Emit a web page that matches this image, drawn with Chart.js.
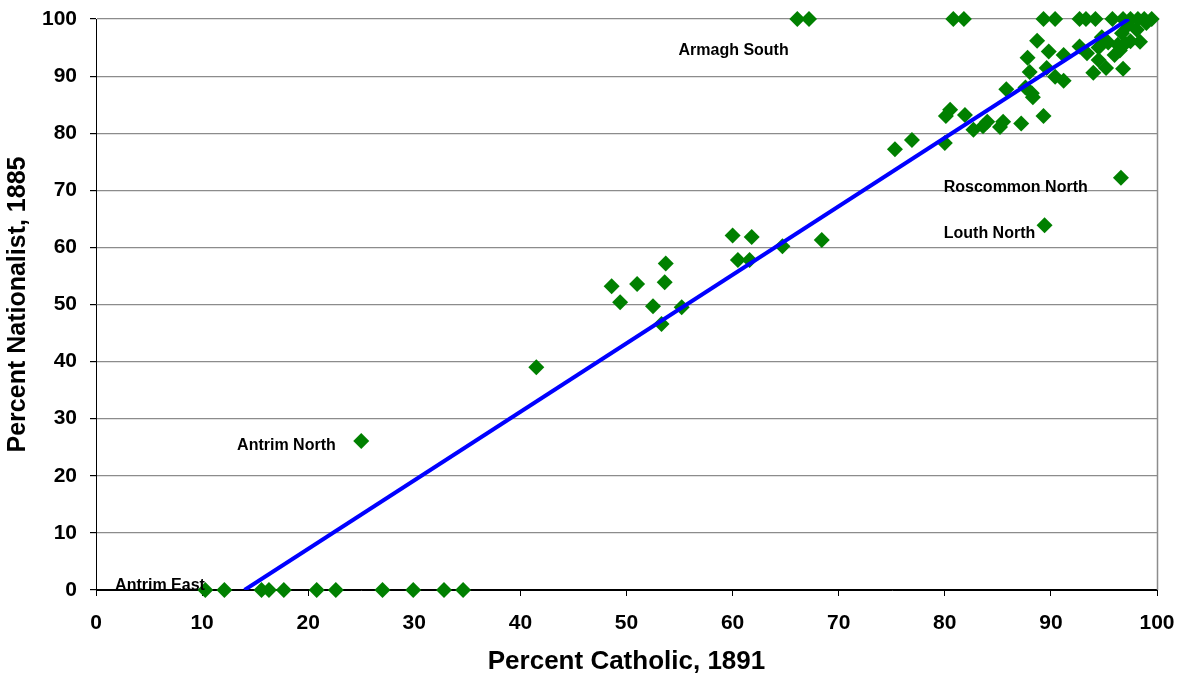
<!DOCTYPE html>
<html>
<head>
<meta charset="utf-8">
<title>Percent Catholic vs Percent Nationalist</title>
<script src="https://cdn.jsdelivr.net/npm/chart.js@4.4.1/dist/chart.umd.min.js"></script>
<style>
  html, body { margin: 0; padding: 0; background: #fff; }
  #wrap { width: 1186px; height: 680px; }
</style>
</head>
<body>
<div id="wrap"><canvas id="scatter" width="1186" height="680"></canvas></div>
<script>
// Constituency values: % Catholic (1891) against % Nationalist vote (1885)
const pctCatholic = [
  10.3, 12.1, 15.6, 16.3, 17.7, 20.8, 22.6, 27.0, 29.9, 32.8, 34.6,
  25.0, 41.5,
  48.6, 49.4, 51.0, 52.5, 53.7, 53.6, 53.3, 55.2,
  60.0, 61.8, 60.5, 61.6, 64.7, 68.4,
  66.1, 67.2, 80.8, 81.8,
  75.3, 76.9, 80.0,
  80.5, 80.1, 81.9, 82.7, 83.6, 84.0, 85.2, 85.5, 87.2, 89.3,
  85.8, 87.6, 88.2, 88.3, 88.0, 87.8, 88.7,
  89.4, 96.6,
  89.3, 90.4, 92.7, 93.3, 94.2, 95.8, 96.8, 97.5, 98.2, 98.8, 99.5,
  89.8, 91.2, 89.6, 90.4, 91.2, 94.0, 95.2, 96.8, 92.7, 93.4, 94.5, 94.8,
  95.4, 96.3, 97.0, 97.5, 98.4, 98.1, 99.0, 96.7, 96.0, 94.5, 97.3, 96.5
];
const pctNationalist = [
  0, 0, 0, 0, 0, 0, 0, 0, 0, 0, 0,
  26.1, 39.0,
  53.2, 50.4, 53.6, 49.7, 57.2, 53.9, 46.6, 49.5,
  62.1, 61.8, 57.8, 57.8, 60.2, 61.3,
  100, 100, 100, 100,
  77.2, 78.8, 78.3,
  84.1, 83.0, 83.2, 80.6, 81.2, 82.0, 81.1, 82.0, 81.7, 83.0,
  87.7, 88.0, 87.0, 86.3, 90.7, 93.2, 96.2,
  63.9, 72.2,
  100, 100, 100, 100, 100, 100, 100, 100, 100, 100, 100,
  94.3, 93.7, 91.4, 89.9, 89.2, 90.6, 91.4, 91.3, 95.2, 94.0, 95.0, 96.8,
  95.9, 95.5, 95.7, 96.1, 96.0, 98.1, 99.3, 97.5, 93.7, 92.8, 99.0, 94.5
];

// Named constituencies (label anchor: left end of the text baseline)
const noteNames = ["Armagh South", "Roscommon North", "Louth North", "Antrim North", "Antrim East"];
const noteX = [54.9, 79.9, 79.9, 13.3, 1.8];
const noteY = [93.7, 69.7, 61.6, 24.5, 0];

// Linear trend, clipped to 0..100 on the y axis
const trendSlope = 1.2;
const trendIntercept = -16.8;
const trendStart = -trendIntercept / trendSlope;
const trendEnd = (100 - trendIntercept) / trendSlope;

const axisTicks = [0, 10, 20, 30, 40, 50, 60, 70, 80, 90, 100];

const FONT = '"Liberation Sans", Arial, sans-serif';

const points = pctCatholic.map((x, i) => ({ x, y: pctNationalist[i] }));
const trend = [trendStart, trendEnd].map((x) => ({ x, y: trendSlope * x + trendIntercept }));

// gray frame line on the right edge of the plot
const frameRight = {
  id: "frameRight",
  beforeDatasetsDraw(chart) {
    const { ctx, chartArea } = chart;
    ctx.save();
    ctx.strokeStyle = "#8c8c8c";
    ctx.lineWidth = 1.5;
    ctx.beginPath();
    ctx.moveTo(chartArea.right + 0.5, chartArea.top);
    ctx.lineTo(chartArea.right + 0.5, chartArea.bottom);
    ctx.stroke();
    ctx.restore();
  },
};

// text labels next to the named constituencies
const constituencyNotes = {
  id: "constituencyNotes",
  afterDatasetsDraw(chart) {
    const { ctx, scales } = chart;
    ctx.save();
    ctx.font = "bold 16px " + FONT;
    ctx.fillStyle = "#000";
    ctx.textAlign = "left";
    ctx.textBaseline = "alphabetic";
    noteNames.forEach((name, i) => {
      ctx.fillText(name, scales.x.getPixelForValue(noteX[i]), scales.y.getPixelForValue(noteY[i]));
    });
    ctx.restore();
  },
};

const ctx = document.getElementById("scatter").getContext("2d");
new Chart(ctx, {
  type: "scatter",
  data: {
    datasets: [
      {
        type: "line",
        label: "Trend",
        data: trend,
        borderColor: "#0000ff",
        borderWidth: 4,
        pointRadius: 0,
        fill: false,
        order: 0,
      },
      {
        label: "Constituencies",
        data: points,
        pointStyle: "rectRot",
        pointRadius: 8,
        pointHoverRadius: 8,
        backgroundColor: "#008000",
        borderColor: "#008000",
        borderWidth: 0,
        clip: false,
        order: 1,
      },
    ],
  },
  options: {
    responsive: false,
    animation: false,
    layout: { padding: { top: 19, right: 29, left: 0, bottom: 0 } },
    plugins: {
      legend: { display: false },
      tooltip: { enabled: false },
    },
    scales: {
      x: {
        type: "linear",
        min: 0,
        max: 100,
        afterBuildTicks: (scale) => {
          scale.ticks = axisTicks.map((value) => ({ value }));
        },
        afterFit: (scale) => {
          scale.height = 90;
          scale.paddingLeft = 0;
          scale.paddingRight = 0;
        },
        grid: {
          drawOnChartArea: false,
          color: "#000",
          tickLength: 6,
        },
        border: { color: "#000", width: 1 },
        ticks: {
          color: "#000",
          padding: 15,
          font: { family: FONT, size: 21, weight: "bold" },
        },
        title: {
          display: true,
          text: "Percent Catholic, 1891",
          color: "#000",
          padding: { top: 0, bottom: 3 },
          font: { family: FONT, size: 26, weight: "bold" },
        },
      },
      y: {
        type: "linear",
        min: 0,
        max: 100,
        afterBuildTicks: (scale) => {
          scale.ticks = axisTicks.map((value) => ({ value }));
        },
        afterFit: (scale) => {
          scale.width = 96;
          scale.paddingTop = 0;
          scale.paddingBottom = 0;
        },
        grid: {
          color: (c) => (c.tick && c.tick.value === 0 ? "#000" : "#8c8c8c"),
          tickColor: "#000",
          tickLength: 6,
          lineWidth: 1.2,
        },
        border: { color: "#000", width: 1 },
        ticks: {
          color: "#000",
          padding: 13,
          font: { family: FONT, size: 21, weight: "bold" },
        },
        title: {
          display: true,
          text: "Percent Nationalist, 1885",
          color: "#000",
          padding: { top: 3, bottom: 0 },
          font: { family: FONT, size: 25, weight: "bold" },
        },
      },
    },
  },
  plugins: [frameRight, constituencyNotes],
});
</script>
</body>
</html>
